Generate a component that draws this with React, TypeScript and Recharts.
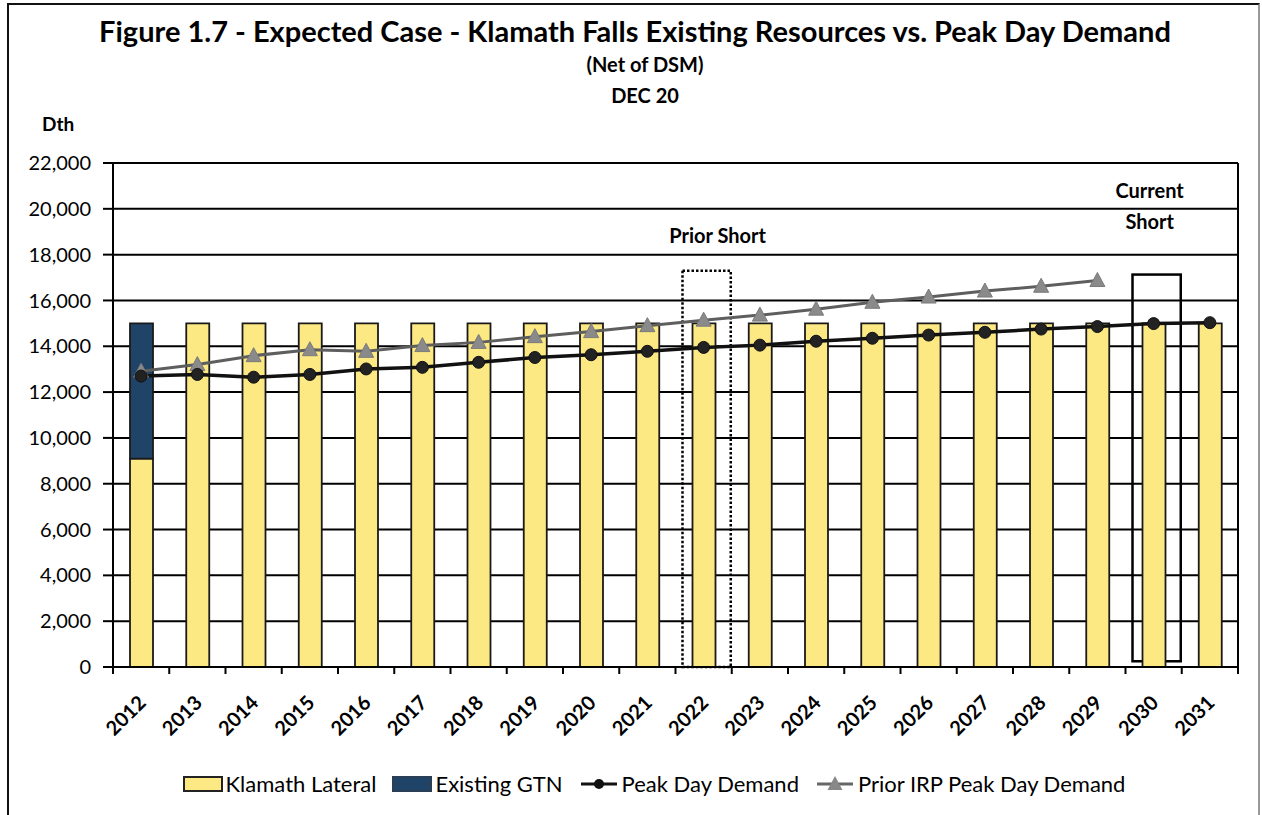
import React from 'react';
import { ComposedChart, Bar, Line, XAxis, YAxis, CartesianGrid, ReferenceArea, ReferenceLine, Legend } from 'recharts';

const years = ['2012', '2013', '2014', '2015', '2016', '2017', '2018', '2019', '2020', '2021',
  '2022', '2023', '2024', '2025', '2026', '2027', '2028', '2029', '2030', '2031'];
const klamathLateral = [9100, 15000, 15000, 15000, 15000, 15000, 15000, 15000, 15000, 15000,
  15000, 15000, 15000, 15000, 15000, 15000, 15000, 15000, 15000, 15000];
const existingGtn = [5900, null, null, null, null, null, null, null, null, null,
  null, null, null, null, null, null, null, null, null, null];
const peakDayDemand = [12700, 12770, 12650, 12770, 13010, 13080, 13300, 13510, 13630, 13780,
  13950, 14050, 14220, 14350, 14490, 14610, 14750, 14860, 14990, 15030];
const priorIrpPeakDayDemand = [12910, 13200, 13590, 13850, 13780, 14030, 14170, 14420, 14640, 14900,
  15140, 15360, 15620, 15920, 16150, 16410, 16620, 16870, null, null];
const yTicks = [0, 2000, 4000, 6000, 8000, 10000, 12000, 14000, 16000, 18000, 20000, 22000];

// shortfall boxes: year, top value, bottom value
const priorShort = { year: '2022', top: 17300, bottom: 0 };
const currentShort = { year: '2030', top: 17130, bottom: 250 };

const data = years.map((year, i) => ({
  year,
  klamath: klamathLateral[i],
  gtn: existingGtn[i],
  peak: peakDayDemand[i],
  prior: priorIrpPeakDayDemand[i],
}));

const W = 1262;
const H = 815;
const X_AXIS_H = 148;
const M = { top: 163, right: 24, bottom: 0, left: 0 };
const Y_AXIS_W = 113;
const BAND = (W - M.left - M.right - Y_AXIS_W) / years.length;
const FONT = 'Lato, "Open Sans", sans-serif';
const YELLOW = '#fde983';
const NAVY = '#1f4468';

const YearTick = (props: any) => {
  const { x, y, payload, index } = props;
  const half = BAND / 2;
  const ax = x + 6;
  const ay = y + 37;
  return (
    <g>
      <line x1={x - half} y1={y} x2={x - half} y2={y + 7} stroke="#000" strokeWidth={2} />
      {index === years.length - 1 && (
        <line x1={x + half} y1={y} x2={x + half} y2={y + 7} stroke="#000" strokeWidth={2} />
      )}
      <text x={ax} y={ay} transform={`rotate(-45 ${ax} ${ay})`} textAnchor="end"
        fontFamily={FONT} fontWeight={700} fontSize={20} fill="#000">
        {payload.value}
      </text>
    </g>
  );
};

const Triangle = (props: any) => {
  const { cx, cy, index } = props;
  if (cx == null || cy == null) return <g key={`t-${index}`} />;
  return (
    <path key={`t-${index}`} d={`M${cx},${cy - 8} L${cx + 7.5},${cy + 6} L${cx - 7.5},${cy + 6} Z`}
      fill="#8a8a8a" stroke="#7a7a7a" strokeWidth={1} />
  );
};

const boxShape = (dashed: boolean) => (props: any) => (
  <rect x={props.x + 7} y={props.y} width={props.width - 8} height={props.height}
    fill="none" stroke="#000" strokeWidth={2.5}
    strokeDasharray={dashed ? '2.5 2' : undefined} />
);

const priorLabel = (props: any) => {
  const vb = props.viewBox;
  return (
    <text x={vb.x + vb.width / 2 + 14} y={vb.y - 28} textAnchor="middle"
      fontFamily={FONT} fontWeight={700} fontSize={20} fill="#000">Prior Short</text>
  );
};

const currentLabel = (props: any) => {
  const vb = props.viewBox;
  const cx = vb.x + vb.width / 2 - 4;
  return (
    <g>
      <text x={cx} y={vb.y - 77} textAnchor="middle" fontFamily={FONT} fontWeight={700} fontSize={20} fill="#000">Current</text>
      <text x={cx} y={vb.y - 46} textAnchor="middle" fontFamily={FONT} fontWeight={700} fontSize={20} fill="#000">Short</text>
    </g>
  );
};

const legendItems = [
  { label: 'Klamath Lateral', kind: 'rect', color: YELLOW },
  { label: 'Existing GTN', kind: 'rect', color: NAVY },
  { label: 'Peak Day Demand', kind: 'circle', color: '#111' },
  { label: 'Prior IRP Peak Day Demand', kind: 'triangle', color: '#888' },
];

const renderLegend = () => (
  <div style={{ display: 'flex', justifyContent: 'center', alignItems: 'center', fontFamily: FONT, fontSize: 22, color: '#000', paddingLeft: 62 }}>
    {legendItems.map((it) => (
      <div key={it.label} style={{ display: 'flex', alignItems: 'center', marginRight: 16 }}>
        <svg width={40} height={18} style={{ marginRight: 3 }}>
          {it.kind === 'rect' && (
            <rect x={1} y={2} width={38} height={14} fill={it.color} stroke={it.color === YELLOW ? '#222' : '#2a3f55'} strokeWidth={2} />
          )}
          {it.kind === 'circle' && (
            <g>
              <line x1={2} y1={9} x2={38} y2={9} stroke={it.color} strokeWidth={3} />
              <circle cx={20} cy={9} r={5} fill={it.color} />
            </g>
          )}
          {it.kind === 'triangle' && (
            <g>
              <line x1={2} y1={9} x2={38} y2={9} stroke="#666" strokeWidth={3} />
              <path d="M20,1 L27.5,15 L12.5,15 Z" fill={it.color} />
            </g>
          )}
        </svg>
        <span>{it.label}</span>
      </div>
    ))}
  </div>
);

export default function App() {
  return (
    <div style={{ position: 'absolute', left: 0, top: 0, width: W, height: H, background: '#fff', overflow: 'hidden' }}>
      <div style={{ position: 'absolute', left: 7, top: 3, width: 1249, height: 900, borderLeft: '2px solid #111', borderTop: '2px solid #111', borderRight: '2px solid #999' }} />
      <div style={{ position: 'absolute', left: 0, width: W, top: 12, textAlign: 'center', fontFamily: FONT, fontWeight: 700, fontSize: 29, lineHeight: '38px', color: '#000', paddingLeft: 4 }}>
        Figure 1.7 - Expected Case - Klamath Falls Existing Resources vs. Peak Day Demand
      </div>
      <div style={{ position: 'absolute', left: 0, width: W, top: 52, textAlign: 'center', fontFamily: FONT, fontWeight: 700, fontSize: 20, lineHeight: '24px', color: '#000', paddingLeft: 14 }}>
        (Net of DSM)
      </div>
      <div style={{ position: 'absolute', left: 0, width: W, top: 83, textAlign: 'center', fontFamily: FONT, fontWeight: 700, fontSize: 20, lineHeight: '24px', color: '#000', paddingLeft: 14 }}>
        DEC 20
      </div>
      <div style={{ position: 'absolute', left: 42, top: 112, fontFamily: FONT, fontWeight: 700, fontSize: 19, color: '#000' }}>
        Dth
      </div>
      <ComposedChart width={W} height={H} data={data} margin={M} barSize={23}>
        <CartesianGrid vertical={false} stroke="#000" strokeWidth={2} />
        <XAxis dataKey="year" interval={0} tickSize={0} tickMargin={0} tickLine={false}
          axisLine={{ stroke: '#000', strokeWidth: 2 }} tick={<YearTick />} height={X_AXIS_H} />
        <YAxis domain={[0, 22000]} ticks={yTicks} width={Y_AXIS_W} tickSize={10} tickMargin={12}
          tickLine={{ stroke: '#000', strokeWidth: 2 }} axisLine={{ stroke: '#000', strokeWidth: 2 }}
          tickFormatter={(v: number) => v.toLocaleString('en-US')}
          tick={{ fontFamily: FONT, fontSize: 20, fill: '#000' }} />
        <ReferenceLine x={years[years.length - 1]} position="end" stroke="#000" strokeWidth={2} />
        <Bar dataKey="klamath" stackId="res" fill={YELLOW} stroke="#1a1a1a" strokeWidth={1.8} isAnimationActive={false} />
        <Bar dataKey="gtn" stackId="res" fill={NAVY} stroke="#1a1a1a" strokeWidth={1.8} isAnimationActive={false} />
        <ReferenceArea x1={priorShort.year} x2={priorShort.year} y1={priorShort.bottom} y2={priorShort.top}
          shape={boxShape(true)} label={priorLabel} ifOverflow="visible" />
        <ReferenceArea x1={currentShort.year} x2={currentShort.year} y1={currentShort.bottom} y2={currentShort.top}
          shape={boxShape(false)} label={currentLabel} ifOverflow="visible" />
        <Line dataKey="prior" stroke="#5e5e5e" strokeWidth={3} dot={<Triangle />} activeDot={false}
          connectNulls={false} isAnimationActive={false} />
        <Line dataKey="peak" stroke="#111" strokeWidth={3.5} dot={{ r: 6, fill: '#222', stroke: '#111', strokeWidth: 1 }}
          activeDot={false} isAnimationActive={false} />
        <Legend layout="horizontal" verticalAlign="middle" align="center" content={renderLegend}
          wrapperStyle={{ top: 770, left: 0, width: W, height: 26 }} />
      </ComposedChart>
    </div>
  );
}
